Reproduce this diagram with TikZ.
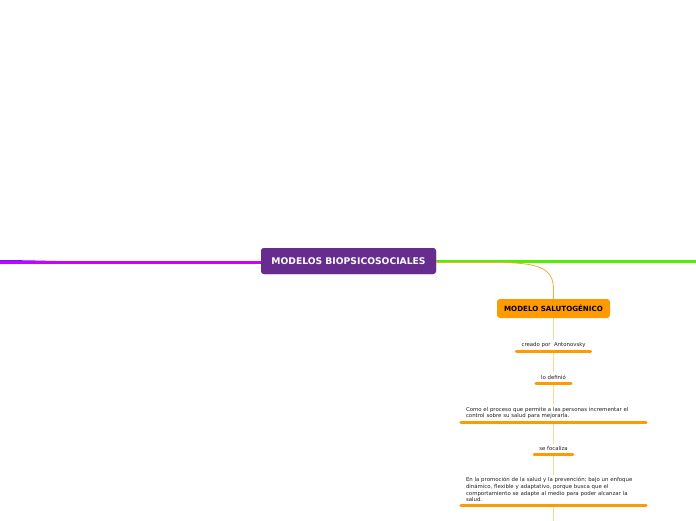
\documentclass[tikz,border=0pt]{standalone}
\usepackage{fontspec}
\usetikzlibrary{calc}
\setmainfont{DejaVu Sans}
\definecolor{rootpurple}{HTML}{662D8F}
\definecolor{mag}{HTML}{CC00FF}
\definecolor{bluel}{HTML}{5522FF}
\definecolor{pinkl}{HTML}{FF55FF}
\definecolor{greenl}{HTML}{55EE00}
\definecolor{orangen}{HTML}{FF9A00}
\definecolor{orangec}{HTML}{FFA63A}
\definecolor{orangev}{HTML}{FFD599}
\definecolor{txt}{HTML}{222222}
\tikzset{
  rootbox/.style={fill=rootpurple, text=white, rounded corners=3pt, minimum width=175pt, minimum height=26pt, inner sep=0pt, font=\fontsize{9.2}{10}\selectfont\bfseries},
  subbox/.style={fill=orangen, text=black, rounded corners=3pt, minimum width=113pt, minimum height=19pt, inner sep=0pt, font=\fontsize{7.1}{8}\selectfont\bfseries},
  leaf/.style={fill=white, text=txt, inner xsep=5pt, inner ysep=3pt, anchor=south, font=\fontsize{5.4}{6.6}\selectfont},
  leafwide/.style={leaf, text width=175pt, align=left},
  uline/.style={draw=orangen, line width=3pt, line cap=round},
}
\begin{document}
\begin{tikzpicture}[x=1pt,y=-1pt]
\useasboundingbox (0,0) rectangle (696,520);
% left branches
\draw[bluel, line width=1pt] (-2,260.5) .. controls (30,260.6) and (50,261.5) .. (80,262);
\draw[pinkl, line width=1pt] (-2,263.6) .. controls (20,263.4) and (40,262.5) .. (60,262);
\coordinate (leftend) at (-2,262);
\coordinate (rightend) at (698,261.7);
% vertical line
\coordinate (vbottom) at (553.5,522);
% nodes
\node[rootbox] (root) at (348.5,261) {MODELOS BIOPSICOSOCIALES};
\draw[mag, line width=3pt] (leftend) -- (root.west |- leftend);
\draw[greenl, line width=3pt] (root.east |- rightend) -- (rightend);
\node[rootbox] at (root) {MODELOS BIOPSICOSOCIALES};
\node[subbox] (salu) at (553.5,308.5) {MODELO SALUTOGÉNICO};
\draw[orangec, line width=0.8pt] ($(root.east)+(0,1.5)$) -- (495,262.5) .. controls (540,262.5) and (553.5,268) .. (553.5,290) -- (salu.north);
\draw[orangev, line width=0.8pt] (salu.south) -- (vbottom);
\node[leaf] (n1) at (553.5,351) {creado por\ \ Antonovsky};
\draw[uline] (n1.south west) -- (n1.south east);
\node[leaf] (n2) at (553.5,383) {lo definió};
\draw[uline] (n2.south west) -- (n2.south east);
\node[leafwide] (n3) at (553.5,422) {Como el proceso que permite a las personas incrementar el\\control sobre su salud para mejorarla.};
\draw[uline] (n3.south west) -- (n3.south east);
\node[leaf] (n4) at (553.5,454) {se focaliza};
\draw[uline] (n4.south west) -- (n4.south east);
\node[leafwide] (n5) at (553.5,505) {En la promoción de la salud y la prevención; bajo un enfoque\\dinámico, flexible y adaptativo, porque busca que el\\comportamiento se adapte al medio para poder alcanzar la\\salud.};
\draw[uline] (n5.south west) -- (n5.south east);
\end{tikzpicture}
\end{document}
